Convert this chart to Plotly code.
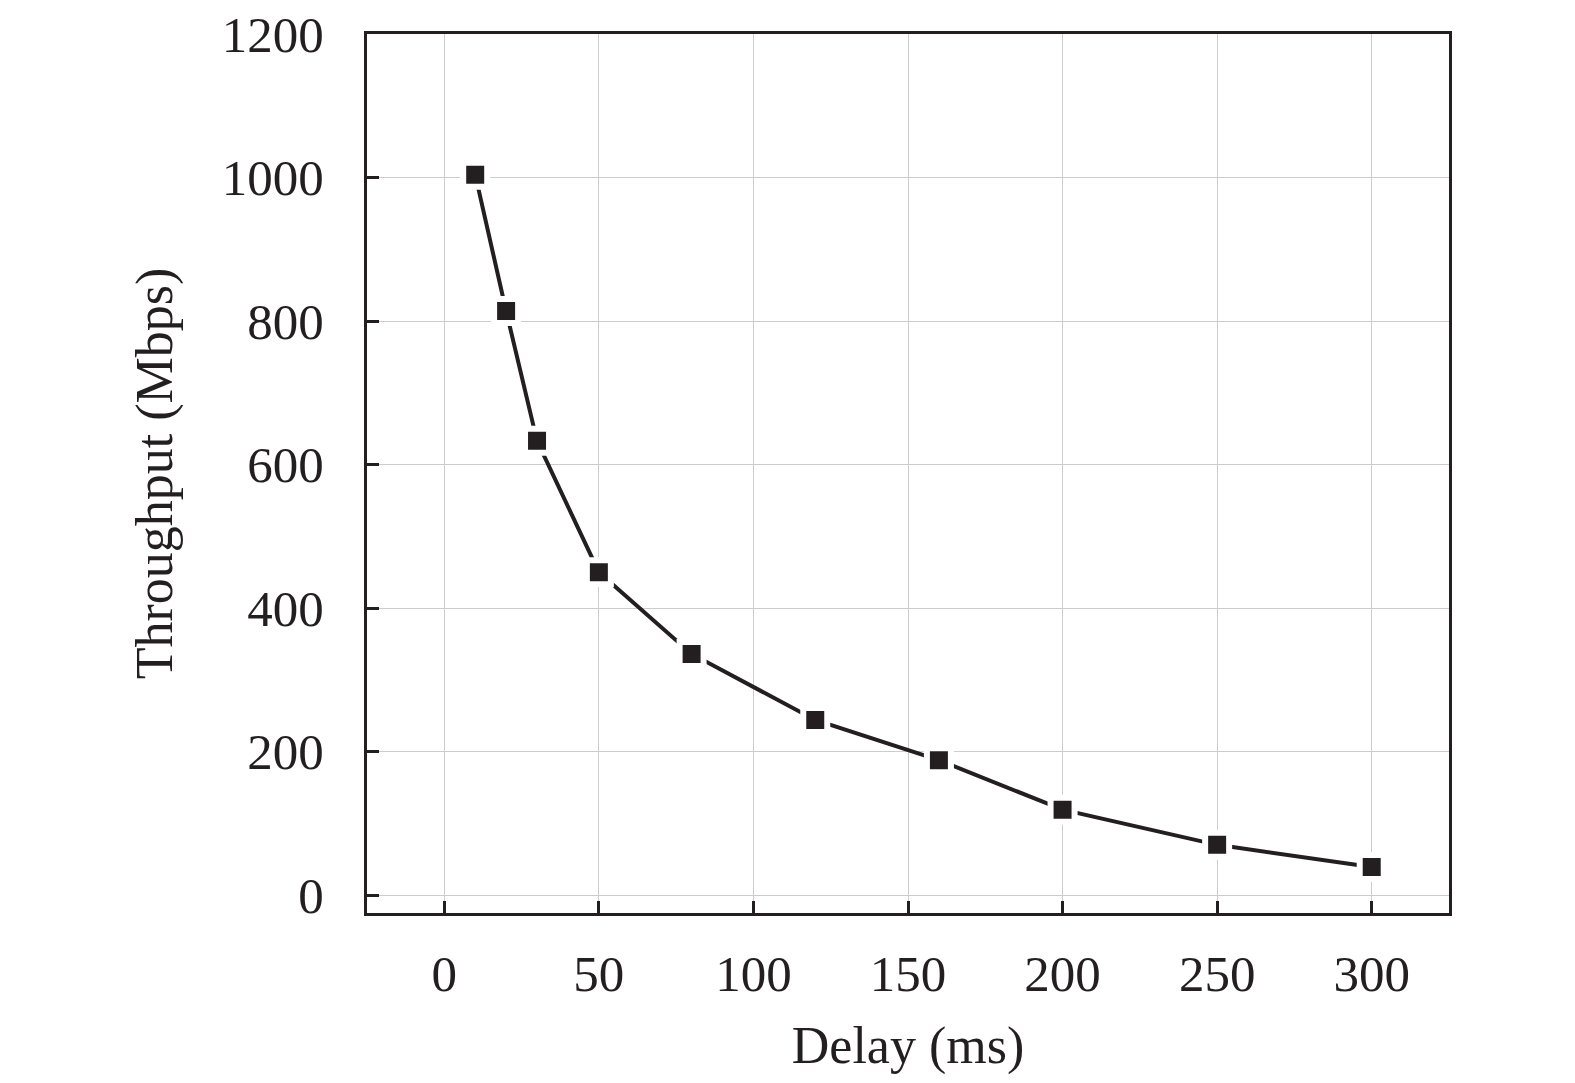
import plotly.graph_objects as go

delay_ms = [10, 20, 30, 50, 80, 120, 160, 200, 250, 300]
throughput_mbps = [1004, 814, 633, 450, 336, 244, 188, 119, 70, 39]

x_ticks = [0, 50, 100, 150, 200, 250, 300]
y_ticks = [0, 200, 400, 600, 800, 1000, 1200]

ink = '#231f20'

trace = go.Scatter(
    x=delay_ms, y=throughput_mbps, mode='lines+markers',
    line=dict(color=ink, width=4),
    marker=dict(symbol='square', size=24, color=ink,
                line=dict(color='white', width=6)),
    showlegend=False)

axis_style = dict(
    showline=True, linecolor=ink, linewidth=3, mirror=True,
    showgrid=True, gridcolor='#cccccc', gridwidth=1,
    ticks='inside', ticklen=12, tickwidth=3, tickcolor=ink,
    zeroline=False, automargin=False, ticklabeloverflow='allow',
    tickfont=dict(family='Liberation Serif', size=51, color=ink),
)

layout = go.Layout(
    width=1575, height=1083,
    paper_bgcolor='white', plot_bgcolor='white',
    margin=dict(l=359, r=134, t=26, b=178),
    font=dict(family='Liberation Serif', color=ink),
    xaxis=dict(axis_style, range=[-25, 325], tickvals=x_ticks,
               ticklabelstandoff=14,
               title=dict(text='Delay (ms)', font=dict(size=52), standoff=26)),
    yaxis=dict(axis_style, range=[-25, 1200], tickvals=y_ticks,
               ticklabelstandoff=30,
               title=dict(text='Throughput (Mbps)', font=dict(size=52), standoff=33)),
)

fig = go.Figure(data=[trace], layout=layout)
fig.write_html('out.html')
